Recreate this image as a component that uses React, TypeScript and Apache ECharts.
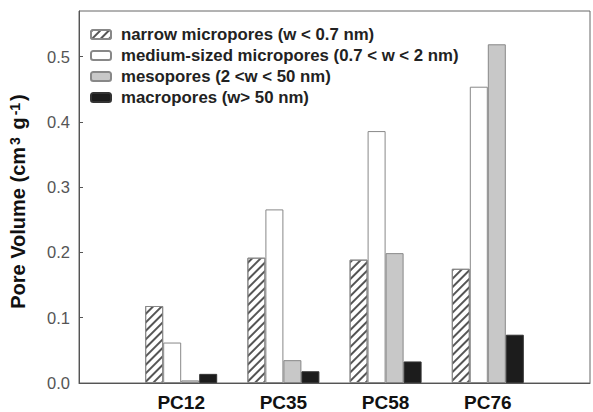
import React, { useEffect, useRef } from "react";
import * as echarts from "echarts";

const categories = ["PC12", "PC35", "PC58", "PC76"];
const narrowMicro = [0.118, 0.192, 0.189, 0.175];
const mediumMicro = [0.062, 0.266, 0.386, 0.454];
const meso = [0.004, 0.035, 0.199, 0.519];
const macro = [0.014, 0.018, 0.033, 0.074];
const yTicks = [0, 0.1, 0.2, 0.3, 0.4, 0.5];
const seriesNames = [
  "narrow micropores (w < 0.7 nm)",
  "medium-sized micropores (0.7 < w < 2 nm)",
  "mesopores (2 <w < 50 nm)",
  "macropores (w> 50 nm)",
];

const FONT = "Liberation Sans, Arial, Helvetica, sans-serif";

export default function App() {
  const ref = useRef<HTMLDivElement>(null);
  useEffect(() => {
    if (!ref.current) return;
    const chart = echarts.init(ref.current, undefined, { renderer: "svg" });
    const pad = (arr: number[]) => ["-", ...arr, "-"];
    const xCats = ["", ...categories, ""];
    const common = { type: "bar", barWidth: 18, barGap: "0%" };
    chart.setOption({
      animation: false,
      backgroundColor: "#fff",
      textStyle: { fontFamily: FONT },
      grid: {
        left: 79,
        right: 2,
        top: 11,
        bottom: 29,
        show: true,
        borderColor: "#666",
        borderWidth: 1,
      },
      legend: {
        orient: "vertical",
        left: 85,
        top: 21,
        itemWidth: 20,
        itemHeight: 9,
        itemGap: 4,
        selectedMode: false,
        textStyle: {
          fontFamily: FONT,
          fontSize: 16.8,
          fontWeight: "bold",
          color: "#222",
          lineHeight: 17,
          padding: [0, 0, 0, 5],
        },
        data: seriesNames,
      },
      xAxis: {
        type: "category",
        data: xCats,
        boundaryGap: false,
        axisTick: { show: false },
        axisLine: { lineStyle: { color: "#555", width: 1 } },
        axisLabel: {
          fontFamily: FONT,
          fontSize: 19,
          fontWeight: "bold",
          color: "#111",
          margin: 10,
        },
        splitLine: { show: false },
      },
      yAxis: {
        type: "value",
        min: 0,
        max: 0.57,
        name: "Pore Volume (cm{sup|3} g{sup|-1})",
        nameLocation: "middle",
        nameGap: 51,
        nameTextStyle: {
          fontFamily: FONT,
          fontSize: 20,
          fontWeight: "bold",
          color: "#111",
          padding: [0, 9, 0, 0],
          rich: {
            sup: {
              fontFamily: FONT,
              fontSize: 14,
              fontWeight: "bold",
              color: "#111",
              verticalAlign: "top",
              padding: [0, 2, 0, 2],
            },
          },
        },
        axisLine: { show: true, lineStyle: { color: "#555", width: 1 } },
        axisTick: {
          show: true,
          inside: true,
          length: 4,
          customValues: yTicks,
          lineStyle: { color: "#555" },
        },
        axisLabel: {
          customValues: yTicks,
          fontFamily: FONT,
          fontSize: 16.5,
          color: "#555",
          margin: 9,
          formatter: (v: number) => v.toFixed(1),
        },
        splitLine: { show: false },
      },
      series: [
        {
          ...common,
          name: seriesNames[0],
          data: pad(narrowMicro),
          itemStyle: {
            color: "#fff",
            borderColor: "#888",
            borderWidth: 1,
            decal: {
              symbol: "rect",
              symbolSize: 1,
              color: "#555",
              dashArrayX: [1, 0],
              dashArrayY: [2, 4],
              rotation: -Math.PI / 4,
            },
          },
        },
        {
          ...common,
          name: seriesNames[1],
          data: pad(mediumMicro),
          itemStyle: { color: "#fff", borderColor: "#888", borderWidth: 1 },
        },
        {
          ...common,
          name: seriesNames[2],
          data: pad(meso),
          itemStyle: { color: "#c8c8c8", borderColor: "#888", borderWidth: 1 },
        },
        {
          ...common,
          name: seriesNames[3],
          data: pad(macro),
          itemStyle: { color: "#1c1c1c", borderColor: "#333", borderWidth: 1 },
        },
      ],
    });
    return () => chart.dispose();
  }, []);
  return <div ref={ref} style={{ width: 593, height: 412, position: "absolute", left: 0, top: 0 }} />;
}
